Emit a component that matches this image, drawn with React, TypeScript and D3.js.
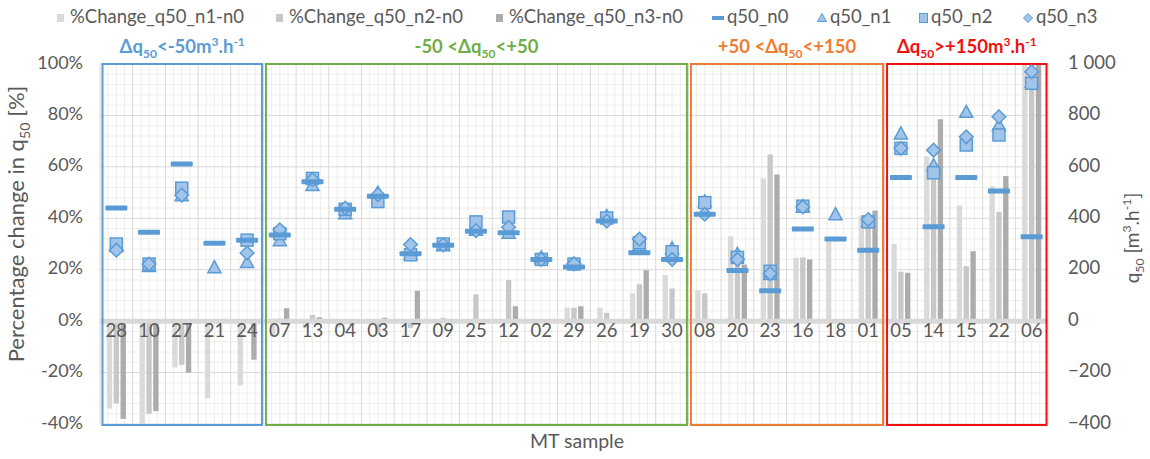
import React from 'react';
import * as d3 from 'd3';

// MT samples, in chart order
const categories = ['28', '10', '27', '21', '24', '07', '13', '04', '03', '17', '09', '25', '12', '02', '29', '26', '19', '30', '08', '20', '23', '16', '18', '01', '05', '14', '15', '22', '06'];

// %Change (left axis)
const pctN1 = [-34, -40, -18, -30, -25, -6, -2.5, -2.5, 0, 0, 0, 0, 0, 0, 5.2, 5.2, 10.8, 17.9, 12, 33, 55.5, 24.6, 31, 41, 30, 64, 45, 52.5, 120];
const pctN2 = [-32, -36, -17, null, 0, 1, 2.4, -1, -4.7, -2.6, 1.3, 10.4, 16, 0, 5.2, 3.2, 14.4, 12.7, 10.8, 26, 64.8, 24.8, null, 40, 19.2, 57, 21.4, 42.5, 115];
const pctN3 = [-38, -35, -20, null, -15, 5, 1.5, -1.5, 1.3, 11.8, 0.5, 0, 5.8, 0, 5.8, 0, 19.8, 0, 0, 22, 57, 24, null, 43, 18.8, 78.5, 27.2, 56.4, 110];

// q50 values (right axis)
const q50N0 = [440, 346, 611, 303, 315, 335, 542, 435, 486, 262, 295, 350, 344, 240, 211, 389, 266, 240, 416, 197, 118, 358, 319, 276, 559, 367, 559, 506, 328];
const q50N1 = [292, 214, 490, 210, 230, 315, 529, 420, 500, 262, 295, 355, 344, 248, 222, 409, 295, 283, 466, 262, 183, 446, 416, 389, 730, 607, 814, 763, 931];
const q50N2 = [300, 222, 517, null, 315, 340, 555, 435, 465, 258, 300, 386, 405, 240, 222, 401, 305, 270, 461, 248, 194, 447, null, 386, 672, 577, 685, 724, 925];
const q50N3 = [276, 222, 490, null, 265, 355, 550, 440, 492, 298, 297, 352, 365, 240, 223, 389, 319, 240, 416, 240, 185, 444, null, 395, 672, 665, 717, 795, 970];

const pctTicks = [-40, -20, 0, 20, 40, 60, 80, 100];
const q50Ticks = [-400, -200, 0, 200, 400, 600, 800, 1000];

type Part = [string, string?];
const groups: { first: string; last: string; color: string; label: Part[] }[] = [
  { first: '28', last: '24', color: '#5b9bd5', label: [['Δq'], ['50', 'sub'], ['<-50m'], ['3', 'sup'], ['.h'], ['-1', 'sup']] },
  { first: '07', last: '30', color: '#70ad47', label: [['-50 <Δq'], ['50', 'sub'], ['<+50']] },
  { first: '08', last: '01', color: '#ed7d31', label: [['+50 <Δq'], ['50', 'sub'], ['<+150']] },
  { first: '05', last: '06', color: '#ee1111', label: [['Δq'], ['50', 'sub'], ['>+150m'], ['3', 'sup'], ['.h'], ['-1', 'sup']] },
];

const W = 1150;
const H = 459;
const plot = { left: 100, right: 1048, top: 64, bottom: 424 };
const FONT = 'Lato, "Open Sans", sans-serif';
const GREY = '#595959';
const BLUE = '#5b9bd5';
const FILL = '#a2c4e9';
const barColors = ['#dadada', '#c8c8c8', '#acacac'];

function rich(parts: Part[], size: number) {
  let cur = 0;
  return parts.map(([t, k], i) => {
    const target = k === 'sub' ? size * 0.28 : k === 'sup' ? -size * 0.4 : 0;
    const dy = target - cur;
    cur = target;
    return (
      <tspan key={i} dy={dy} fontSize={k ? size * 0.65 : size}>
        {t}
      </tspan>
    );
  });
}

const triPath = (cx: number, cy: number, s = 13) =>
  `M${cx},${cy - s / 2}L${cx + s / 2},${cy + s / 2 - 1}L${cx - s / 2},${cy + s / 2 - 1}Z`;
const diaPath = (cx: number, cy: number, r = 6.8) =>
  `M${cx},${cy - r}L${cx + r},${cy}L${cx},${cy + r}L${cx - r},${cy}Z`;

export default function App() {
  const x = d3.scaleBand().domain(categories).range([plot.left, plot.right]);
  const inner = d3.scaleBand().domain(['n1', 'n2', 'n3']).range([-9.5, 9.5]).paddingInner(0.22);
  const yL = d3.scaleLinear().domain([-40, 100]).range([plot.bottom, plot.top]);
  const yR = d3.scaleLinear().domain([-400, 1000]).range([plot.bottom, plot.top]);
  const bw = x.bandwidth();
  const cx = (c: string) => (x(c) as number) + bw / 2;

  const pctSeries = [pctN1, pctN2, pctN3];
  const fmtR = (v: number) => d3.format(',')(v).replace(',', ' ');

  const minorH = d3.range(-40, 100.1, 4).filter((v) => v % 20 !== 0);
  const majorV = d3.range(categories.length + 1).map((i) => plot.left + i * bw);
  const minorV: number[] = [];
  categories.forEach((c) => [0.25, 0.5, 0.75].forEach((f) => minorV.push((x(c) as number) + f * bw)));

  const ly = 18;

  return (
    <svg width={W} height={H} style={{ position: 'absolute', left: 0, top: 0, background: '#fff' }} fontFamily={FONT}>
      <defs>
        <clipPath id="plotClip">
          <rect x={plot.left} y={plot.top} width={plot.right - plot.left} height={plot.bottom - plot.top} />
        </clipPath>
      </defs>

      {/* legend */}
      <g fontSize={18.5} fill={GREY}>
        {[0, 1, 2].map((i) => {
          const lx = [57, 276, 496][i];
          return (
            <g key={i}>
              <rect x={lx} y={ly - 4} width={7} height={8} fill={barColors[i]} />
              <text x={lx + 13} y={ly} dominantBaseline="middle">{`%Change_q50_n${i + 1}-n0`}</text>
            </g>
          );
        })}
        <rect x={712} y={ly - 2} width={12} height={4} fill={BLUE} />
        <text x={727} y={ly} dominantBaseline="middle">q50_n0</text>
        <path d={triPath(822, ly, 9)} fill={FILL} stroke={BLUE} strokeWidth={1} />
        <text x={830} y={ly} dominantBaseline="middle">q50_n1</text>
        <rect x={919.5} y={ly - 4.5} width={8} height={9} fill={FILL} stroke={BLUE} strokeWidth={1} />
        <text x={931} y={ly} dominantBaseline="middle">q50_n2</text>
        <path d={diaPath(1028, ly, 4.5)} fill={FILL} stroke={BLUE} strokeWidth={1} />
        <text x={1036} y={ly} dominantBaseline="middle">q50_n3</text>
      </g>

      {/* gridlines */}
      <g>
        {minorH.map((v) => (
          <line key={'mh' + v} x1={plot.left} x2={plot.right} y1={yL(v)} y2={yL(v)} stroke="#eeeeea" />
        ))}
        {minorV.map((v, i) => (
          <line key={'mv' + i} x1={v} x2={v} y1={plot.top} y2={plot.bottom} stroke="#eeeeea" />
        ))}
        {pctTicks.map((v) => (
          <line key={'h' + v} x1={plot.left} x2={plot.right} y1={yL(v)} y2={yL(v)} stroke="#d9d9d9" />
        ))}
        {majorV.map((v, i) => (
          <line key={'v' + i} x1={v} x2={v} y1={plot.top} y2={plot.bottom} stroke="#d9d9d9" />
        ))}
      </g>

      {/* bars */}
      <g clipPath="url(#plotClip)">
        {pctSeries.map((series, s) =>
          series.map((v, i) => {
            if (v === null || v === 0) return null;
            const c = categories[i];
            const bx = cx(c) + (inner(['n1', 'n2', 'n3'][s]) as number);
            const y0 = yL(0);
            const y1 = yL(v);
            return (
              <rect key={s + '-' + c} x={bx} width={inner.bandwidth()} y={Math.min(y0, y1)} height={Math.abs(y1 - y0)} fill={barColors[s]} />
            );
          })
        )}
      </g>

      {/* zero axis line */}
      <line x1={plot.left} x2={plot.right} y1={yL(0)} y2={yL(0)} stroke="#d9d9d9" strokeWidth={5} />

      {/* category labels */}
      <g fontSize={18.5} fill={GREY} textAnchor="middle">
        {categories.map((c) => (
          <text key={c} x={cx(c)} y={yL(0) + 11} dominantBaseline="middle">
            {c}
          </text>
        ))}
      </g>

      {/* group boxes and titles */}
      {groups.map((g) => {
        const gx0 = (x(g.first) as number) + 2.5;
        const gx1 = (x(g.last) as number) + bw - 1.5;
        return (
          <g key={g.first}>
            <rect x={gx0} y={plot.top} width={gx1 - gx0} height={plot.bottom - plot.top + 1} fill="none" stroke={g.color} strokeWidth={2} />
            <text x={(gx0 + gx1) / 2} y={53} textAnchor="middle" fill={g.color} fontWeight="bold">
              {rich(g.label, 18.5)}
            </text>
          </g>
        );
      })}

      {/* q50 markers */}
      <g stroke={BLUE} strokeWidth={1.5} fill={FILL}>
        {q50N1.map((v, i) => (v === null ? null : <path key={'t' + i} d={triPath(cx(categories[i]), yR(v))} />))}
        {q50N2.map((v, i) =>
          v === null ? null : <rect key={'s' + i} x={cx(categories[i]) - 6} y={yR(v) - 6} width={12} height={12} />
        )}
        {q50N3.map((v, i) => (v === null ? null : <path key={'d' + i} d={diaPath(cx(categories[i]), yR(v))} />))}
      </g>
      <g fill={BLUE}>
        {q50N0.map((v, i) => (
          <rect key={'n' + i} x={cx(categories[i]) - 11} y={yR(v) - 2.5} width={22} height={5} rx={1} />
        ))}
      </g>

      {/* left axis */}
      <g fontSize={18} fill={GREY} textAnchor="end">
        {pctTicks.map((v) => (
          <text key={v} x={83} y={yL(v)} dominantBaseline="middle">
            {v + '%'}
          </text>
        ))}
      </g>
      <text transform={`translate(24,224) rotate(-90)`} textAnchor="middle" fill={GREY}>
        {rich([['Percentage change in q'], ['50', 'sub'], [' [%]']], 22)}
      </text>

      {/* right axis */}
      <g fontSize={18.5} fill={GREY} textAnchor="start">
        {q50Ticks.map((v) => (
          <text key={v} x={1068} y={yR(v)} dominantBaseline="middle">
            {fmtR(v)}
          </text>
        ))}
      </g>
      <text transform={`translate(1139,238) rotate(-90)`} textAnchor="middle" fill={GREY}>
        {rich([['q'], ['50', 'sub'], [' [m'], ['3', 'sup'], ['.h'], ['-1', 'sup'], [']']], 19)}
      </text>

      {/* x axis title */}
      <text x={577} y={448} textAnchor="middle" fontSize={19.5} fill={GREY}>
        MT sample
      </text>
    </svg>
  );
}
